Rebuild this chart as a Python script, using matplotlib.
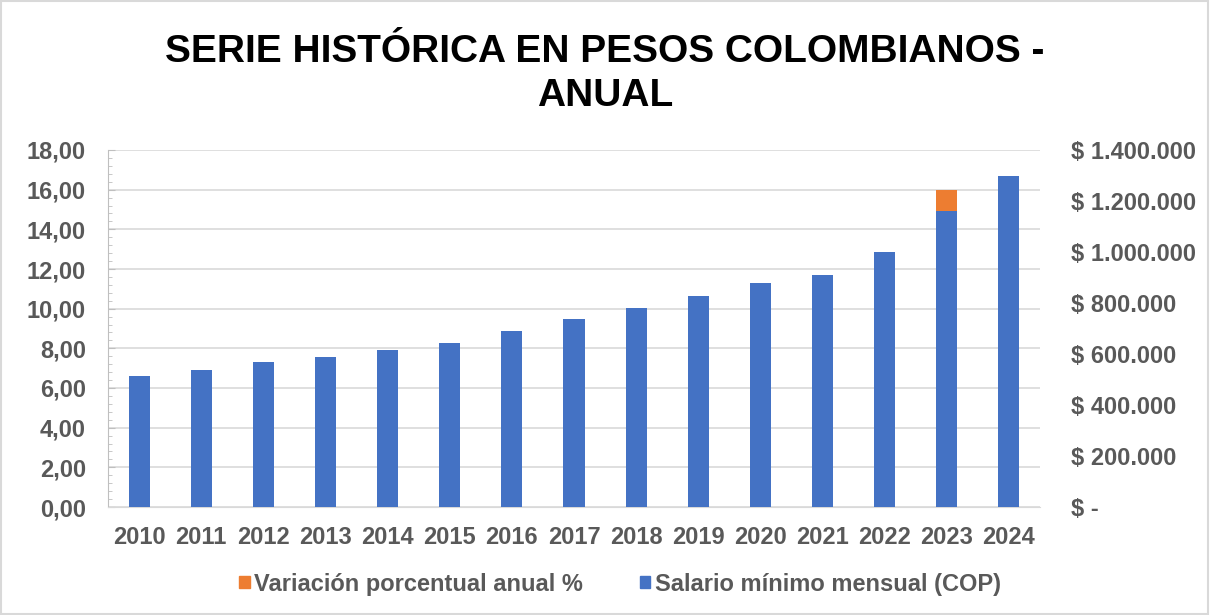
import numpy as np
from matplotlib import pyplot as plt
import matplotlib.ticker as ticker
from matplotlib.patches import Patch

years = ["2010", "2011", "2012", "2013", "2014", "2015", "2016", "2017",
         "2018", "2019", "2020", "2021", "2022", "2023", "2024"]
variacion = [3.64, 3.42, 5.80, 4.02, 4.50, 4.60, 7.00, 7.00,
             5.90, 6.00, 6.00, 3.50, 10.07, 16.00, 12.00]
salario = [515000, 535600, 566700, 589500, 616000, 644350, 689455, 737717,
           781242, 828116, 877803, 908526, 1000000, 1160000, 1300000]

ORANGE = "#ED7D31"
BLUE = "#4472C4"
GREY = "#595959"

plt.rcParams['font.family'] = ['Liberation Sans', 'DejaVu Sans']
plt.rcParams['font.weight'] = 'bold'


def dollar(v, pos):
    if v == 0:
        return "$ -"
    return "$ " + "{:,.0f}".format(v).replace(",", ".")


def main():
    fig = plt.figure(figsize=(12.1, 6.15), dpi=100)
    fig.patches.append(plt.Rectangle((0.001, 0.001), 0.997, 0.997, transform=fig.transFigure,
                                     fill=False, edgecolor="#d9d9d9", linewidth=1.5))
    ax1 = fig.add_axes([108 / 1210, 1 - 507 / 615, (1040 - 108) / 1210, (507 - 150) / 615])
    ax2 = ax1.twinx()

    x = np.arange(len(years))
    w = 0.34
    ax1.bar(x, variacion, width=w, color=ORANGE, zorder=2)
    ax2.bar(x, salario, width=w, color=BLUE, zorder=2)

    ax1.set_xlim(-0.5, len(years) - 0.5)
    ax1.set_ylim(0, 18)
    ax2.set_ylim(0, 1400000)
    ax1.yaxis.set_major_locator(ticker.MultipleLocator(2))
    ax1.yaxis.set_minor_locator(ticker.MultipleLocator(0.4))
    ax1.yaxis.set_major_formatter(ticker.FuncFormatter(lambda v, p: "{:.2f}".format(v).replace(".", ",")))
    ax2.yaxis.set_major_locator(ticker.MultipleLocator(200000))
    ax2.yaxis.set_major_formatter(ticker.FuncFormatter(dollar))

    ax1.grid(axis='y', color="#d9d9d9", linewidth=1.2, zorder=0)
    ax1.set_axisbelow(True)

    for ax in (ax1, ax2):
        for s in ax.spines.values():
            s.set_visible(False)
    ax1.spines['left'].set_visible(True)
    ax1.spines['left'].set_color("#bfbfbf")
    ax1.spines['bottom'].set_visible(True)
    ax1.spines['bottom'].set_color("#d9d9d9")

    ax1.tick_params(axis='y', which='major', direction='in', length=5, color="#bfbfbf",
                    labelsize=17, labelcolor=GREY, pad=16)
    ax1.tick_params(axis='y', which='minor', direction='in', length=3, color="#bfbfbf")
    ax2.tick_params(axis='y', length=0, labelsize=17, labelcolor=GREY, pad=22)
    ax1.set_xticks(x)
    ax1.set_xticklabels(years)
    ax1.tick_params(axis='x', length=0, labelsize=17, labelcolor=GREY, pad=14)

    fig.text(0.5, 1 - 52 / 615, "SERIE HISTÓRICA EN PESOS COLOMBIANOS -", ha='center', va='center',
             fontsize=28, fontweight='bold', color='black')
    fig.text(0.5, 1 - 96 / 615, "ANUAL", ha='center', va='center',
             fontsize=28, fontweight='bold', color='black')

    handles = [Patch(color=ORANGE, label="Variación porcentual anual %"),
               Patch(color=BLUE, label="Salario mínimo mensual (COP)")]
    leg = fig.legend(handles=handles, loc='center', bbox_to_anchor=(620 / 1210, 1 - 584 / 615), ncol=2,
                     frameon=False, fontsize=17, handlelength=0.45, handleheight=0.45,
                     handletextpad=0.2, columnspacing=2.4)
    for t in leg.get_texts():
        t.set_color(GREY)

    plt.savefig("out.png", dpi=100)


if __name__ == "__main__":
    main()
